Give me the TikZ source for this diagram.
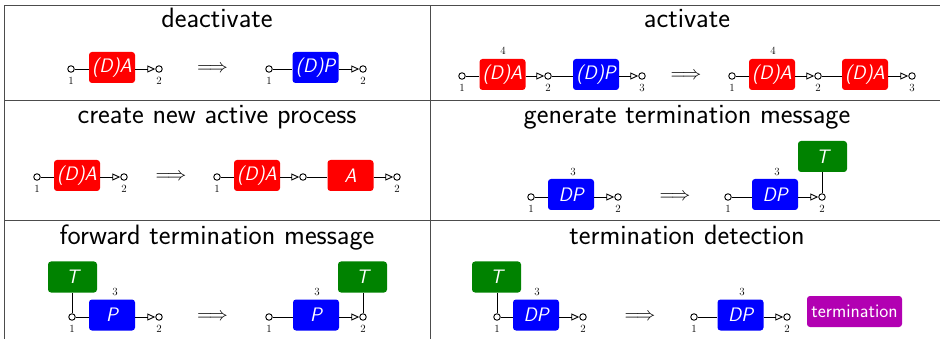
\documentclass[tikz,border=0pt]{standalone}
\usetikzlibrary{arrows.meta}
\definecolor{tgreen}{RGB}{0,130,0}
\definecolor{tpurple}{RGB}{178,0,178}
\begin{document}
\begin{tikzpicture}[x=1pt,y=-1pt,
  box/.style={rounded corners=3pt, minimum width=46pt, minimum height=31pt, text=white, inner sep=0pt,
    font=\fontsize{19.5}{22}\selectfont\sffamily\itshape},
  redbox/.style={box, fill=red},
  bluebox/.style={box, fill=blue},
  tbox/.style={box, fill=tgreen, minimum width=49pt},
  termbox/.style={box, fill=tpurple, minimum width=95pt, font=\fontsize{19.2}{22}\selectfont\sffamily},
  port/.style={circle, draw, line width=0.9pt, minimum size=6.5pt, inner sep=0pt, fill=white},
  lbl/.style={font=\fontsize{11}{13}\selectfont, inner sep=0pt},
  title/.style={font=\fontsize{28}{32}\selectfont\sffamily, anchor=base, inner sep=0pt},
  impl/.style={font=\normalsize, inner sep=0pt, scale=1.9},
  wire/.style={line width=0.9pt},
  arr/.style={wire, -{Triangle[open,length=8pt,width=7pt]}},
  gridline/.style={line width=1pt, black!70}]
\useasboundingbox (0,0) rectangle (940,339);
% table
\draw[gridline] (4.5,339) -- (4.5,5.5) -- (940,5.5);
\draw[gridline] (430,5.5) -- (430,339);
\draw[gridline] (4.5,100.5) -- (940,100.5);
\draw[gridline] (4.5,220.5) -- (940,220.5);
% titles
\node[title] (t1) at (217,28) {deactivate};
\node[title] (t2) at (687,28) {activate};
\node[title] (t3) at (217,124) {create new active process};
\node[title] (t4) at (687,124) {generate termination message};
\node[title] (t5) at (217,244) {forward termination message};
\node[title] (t6) at (687,244) {termination detection};

% ---------- deactivate ----------
\node[port] (a1) at (71,69) {};
\node[lbl] at (71,80.5) {1};
\node[redbox] (ab) at (112,67.5) {(D)A};
\node[port] (a2) at (159,69) {};
\node[lbl] at (159,80.5) {2};
\draw[wire] (a1) -- (a1 -| ab.west);
\draw[arr] (ab.east |- a2) -- (a2);
\node[impl] (ai) at (212.5,69) {$\Longrightarrow$};
\node[port] (b1) at (269,69) {};
\node[lbl] at (269,80.5) {1};
\node[bluebox] (bb) at (315.5,67.5) {(D)P};
\node[port] (b2) at (363,69) {};
\node[lbl] at (363,80.5) {2};
\draw[wire] (b1) -- (b1 -| bb.west);
\draw[arr] (bb.east |- b2) -- (b2);

% ---------- activate ----------
\node[port] (c1) at (462,76) {};
\node[lbl] at (462,87.5) {1};
\node[redbox] (cb) at (502.5,74.5) {(D)A};
\node[lbl] at (503,51) {4};
\node[port] (c2) at (548,76) {};
\node[lbl] at (548,87.5) {2};
\node[bluebox] (cd) at (596,74.5) {(D)P};
\node[port] (c3) at (642,76) {};
\node[lbl] at (642,87.5) {3};
\draw[wire] (c1) -- (c1 -| cb.west);
\draw[arr] (cb.east |- c2) -- (c2);
\draw[wire] (c2) -- (c2 -| cd.west);
\draw[arr] (cd.east |- c3) -- (c3);
\node[impl] (ci) at (686,76) {$\Longrightarrow$};
\node[port] (d1) at (732,76) {};
\node[lbl] at (732,87.5) {1};
\node[redbox] (db) at (772,74.5) {(D)A};
\node[lbl] at (773,51) {4};
\node[port] (d2) at (818,76) {};
\node[lbl] at (818,87.5) {2};
\node[redbox] (dd) at (865,74.5) {(D)A};
\node[port] (d3) at (912,76) {};
\node[lbl] at (912,87.5) {3};
\draw[wire] (d1) -- (d1 -| db.west);
\draw[arr] (db.east |- d2) -- (d2);
\draw[wire] (d2) -- (d2 -| dd.west);
\draw[arr] (dd.east |- d3) -- (d3);

% ---------- create new active process ----------
\node[port] (e1) at (37,177) {};
\node[lbl] at (37,188.5) {1};
\node[redbox] (eb) at (77,175.5) {(D)A};
\node[port] (e2) at (124,177) {};
\node[lbl] at (124,188.5) {2};
\draw[wire] (e1) -- (e1 -| eb.west);
\draw[arr] (eb.east |- e2) -- (e2);
\node[impl] (ei) at (171,177) {$\Longrightarrow$};
\node[port] (f1) at (217,177) {};
\node[lbl] at (217,188.5) {1};
\node[redbox] (fb) at (257,175.5) {(D)A};
\node[port] (fm) at (303,177) {};
\node[redbox] (fd) at (350.5,175.5) {A};
\node[port] (f2) at (397,177) {};
\node[lbl] at (397,188.5) {2};
\draw[wire] (f1) -- (f1 -| fb.west);
\draw[arr] (fb.east |- fm) -- (fm);
\draw[wire] (fm) -- (fm -| fd.west);
\draw[arr] (fd.east |- f2) -- (f2);

% ---------- generate termination message ----------
\node[port] (g1) at (531,197) {};
\node[lbl] at (531,208.5) {1};
\node[bluebox] (gb) at (571,194.5) {DP};
\node[lbl] at (573,172) {3};
\node[port] (g2) at (618,197) {};
\node[lbl] at (618,208.5) {2};
\draw[wire] (g1) -- (g1 -| gb.west);
\draw[arr] (gb.east |- g2) -- (g2);
\node[impl] (gi) at (675,197) {$\Longrightarrow$};
\node[port] (h1) at (728,197) {};
\node[lbl] at (728,208.5) {1};
\node[bluebox] (hb) at (775,194.5) {DP};
\node[lbl] at (777,172) {3};
\node[port] (h2) at (822,197) {};
\node[lbl] at (822,208.5) {2};
\node[tbox] (ht) at (822.5,156.5) {T};
\draw[wire] (h1) -- (h1 -| hb.west);
\draw[arr] (hb.east |- h2) -- (h2);
\draw[wire] (h2) -- (h2 |- ht.south);

% ---------- forward termination message ----------
\node[tbox] (it) at (72.5,277) {T};
\node[port] (i1) at (72,317) {};
\node[lbl] at (72,328.5) {1};
\node[bluebox] (ib) at (112,315) {P};
\node[lbl] at (115,292) {3};
\node[port] (i2) at (159,317) {};
\node[lbl] at (159,328.5) {2};
\draw[wire] (i1) -- (i1 |- it.south);
\draw[wire] (i1) -- (i1 -| ib.west);
\draw[arr] (ib.east |- i2) -- (i2);
\node[impl] (ii) at (212.5,317) {$\Longrightarrow$};
\node[port] (j1) at (269,317) {};
\node[lbl] at (269,328.5) {1};
\node[bluebox] (jb) at (316,315) {P};
\node[lbl] at (317,292) {3};
\node[port] (j2) at (363,317) {};
\node[lbl] at (363,328.5) {2};
\node[tbox] (jt) at (362.5,277) {T};
\draw[wire] (j1) -- (j1 -| jb.west);
\draw[arr] (jb.east |- j2) -- (j2);
\draw[wire] (j2) -- (j2 |- jt.south);

% ---------- termination detection ----------
\node[tbox] (kt) at (496.5,277) {T};
\node[port] (k1) at (497,317) {};
\node[lbl] at (497,328.5) {1};
\node[bluebox] (kb) at (536,315) {DP};
\node[lbl] at (537,292) {3};
\node[port] (k2) at (583,317) {};
\node[lbl] at (583,328.5) {2};
\draw[wire] (k1) -- (k1 |- kt.south);
\draw[wire] (k1) -- (k1 -| kb.west);
\draw[arr] (kb.east |- k2) -- (k2);
\node[impl] (ki) at (640,317) {$\Longrightarrow$};
\node[port] (l1) at (694,317) {};
\node[lbl] at (694,328.5) {1};
\node[bluebox] (lb) at (740.5,315) {DP};
\node[lbl] at (742,292) {3};
\node[port] (l2) at (787,317) {};
\node[lbl] at (787,328.5) {2};
\draw[wire] (l1) -- (l1 -| lb.west);
\draw[arr] (lb.east |- l2) -- (l2);
\node[termbox] (lt) at (854.5,311.5) {termination};
\end{tikzpicture}
\end{document}
